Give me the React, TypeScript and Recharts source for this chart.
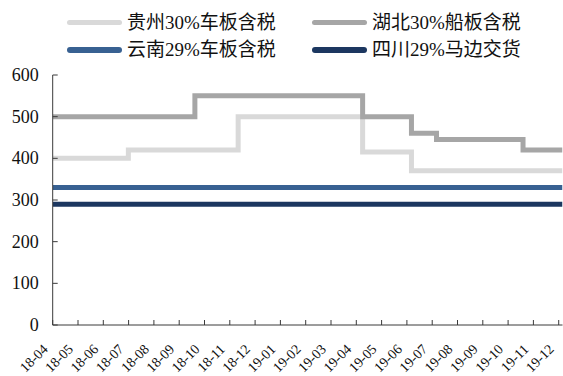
import React from 'react';
import { LineChart, Line, XAxis, YAxis, Legend } from 'recharts';

// Month labels along the x axis (index 0..20)
const monthLabels = [
  '18-04', '18-05', '18-06', '18-07', '18-08', '18-09', '18-10', '18-11', '18-12',
  '19-01', '19-02', '19-03', '19-04', '19-05', '19-06', '19-07', '19-08', '19-09',
  '19-10', '19-11', '19-12',
];
const yTicks = [0, 100, 200, 300, 400, 500, 600];

// Price change points: position in month index, price (yuan/ton)
const guizhouX = [0, 2.99, 7.33, 12.25, 14.18, 20.15];
const guizhouY = [400, 420, 500, 415, 370, 370];

const hubeiX = [0, 5.62, 12.25, 14.18, 15.17, 18.59, 20.15];
const hubeiY = [500, 550, 500, 460, 445, 420, 420];

const yunnanX = [0, 20.15];
const yunnanY = [330, 330];

const sichuanX = [0, 20.15];
const sichuanY = [290, 290];

const toPoints = (xs: number[], ys: number[]) => xs.map((x, i) => ({ x, v: ys[i] }));

const series = [
  { name: '贵州30%车板含税', color: '#D9D9D9', data: toPoints(guizhouX, guizhouY) },
  { name: '湖北30%船板含税', color: '#A6A6A6', data: toPoints(hubeiX, hubeiY) },
  { name: '云南29%车板含税', color: '#386192', data: toPoints(yunnanX, yunnanY) },
  { name: '四川29%马边交货', color: '#1C3760', data: toPoints(sichuanX, sichuanY) },
];

const FONT = "'Liberation Serif', 'Noto Sans CJK SC', serif";
const AXIS_COLOR = '#3a3a3a';

const YTick = (props: any) => {
  const { x, y, payload } = props;
  const axisX = x + 14;
  return (
    <g>
      <line x1={axisX} x2={axisX + 5} y1={y} y2={y} stroke={AXIS_COLOR} strokeWidth={1} />
      <text x={x} y={y} dy="0.34em" textAnchor="end" style={{ fontFamily: FONT }} fontSize={18} fill="#111">
        {payload.value}
      </text>
    </g>
  );
};

const XTick = (props: any) => {
  const { x, y, payload } = props;
  const axisY = y - 18;
  const ax = x - 7;
  const ay = y + 4;
  return (
    <g>
      <line x1={x} x2={x} y1={axisY} y2={axisY - 5} stroke={AXIS_COLOR} strokeWidth={1} />
      <text
        x={ax}
        y={ay}
        dy="0.3em"
        textAnchor="end"
        transform={`rotate(-45, ${ax}, ${ay})`}
        style={{ fontFamily: FONT }}
        fontSize={14}
        fill="#111"
      >
        {monthLabels[payload.value]}
      </text>
    </g>
  );
};

const legendPos = [
  { left: 67, top: 22.5 },
  { left: 312, top: 22.5 },
  { left: 67, top: 50 },
  { left: 312, top: 50 },
];

const LegendContent = () => (
  <div style={{ position: 'relative', width: 563, height: 70 }}>
    {series.map((s, i) => (
      <div
        key={s.name}
        style={{
          position: 'absolute',
          left: legendPos[i].left,
          top: legendPos[i].top - 12,
          height: 24,
          display: 'flex',
          alignItems: 'center',
          whiteSpace: 'nowrap',
        }}
      >
        <span
          style={{
            display: 'inline-block',
            width: 55,
            height: 5.5,
            borderRadius: 3,
            background: s.color,
            marginRight: 5,
          }}
        />
        <span style={{ fontFamily: FONT, fontSize: 19, color: '#111', lineHeight: '24px' }}>{s.name}</span>
      </div>
    ))}
  </div>
);

export default function App() {
  return (
    <div style={{ position: 'absolute', left: 0, top: 0, width: 563, height: 376, background: '#fff' }}>
      <LineChart width={563} height={376} margin={{ top: 5, right: 0.5, left: 0, bottom: 0 }}>
        <Legend
          verticalAlign="top"
          align="left"
          wrapperStyle={{ top: 0, left: 0, width: 563, height: 70 }}
          content={<LegendContent />}
        />
        <XAxis
          type="number"
          dataKey="x"
          domain={[0, 20.15]}
          ticks={monthLabels.map((_, i) => i)}
          interval={0}
          height={51}
          tickSize={0}
          tickMargin={18}
          tickLine={false}
          axisLine={{ stroke: AXIS_COLOR, strokeWidth: 1 }}
          tick={<XTick />}
          allowDataOverflow
        />
        <YAxis
          type="number"
          domain={[0, 600]}
          ticks={yTicks}
          interval={0}
          width={52.7}
          tickSize={0}
          tickMargin={14}
          tickLine={false}
          axisLine={{ stroke: AXIS_COLOR, strokeWidth: 1 }}
          tick={<YTick />}
        />
        {series.map((s) => (
          <Line
            key={s.name}
            data={s.data}
            dataKey="v"
            name={s.name}
            type="stepAfter"
            stroke={s.color}
            strokeWidth={5}
            dot={false}
            activeDot={false}
            isAnimationActive={false}
          />
        ))}
      </LineChart>
    </div>
  );
}
